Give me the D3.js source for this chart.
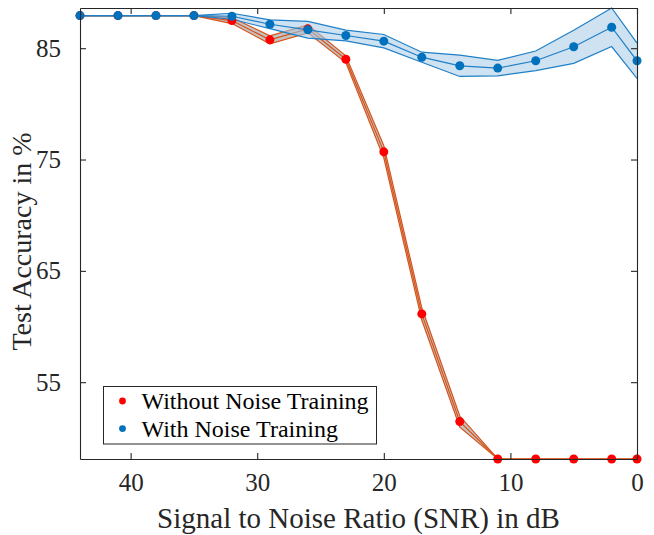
<!DOCTYPE html>
<html>
<head>
<meta charset="utf-8">
<script src="https://cdn.jsdelivr.net/npm/d3@7"></script>
<style>
  body { margin: 0; background: #fff; }
  svg { display: block; font-family: "Liberation Serif", "Times New Roman", serif; }
</style>
</head>
<body>
<div class="viz"></div>
<script>
// SNR levels (dB)
var snr = [44, 41, 38, 35, 32, 29, 26, 23, 20, 17, 14, 11, 8, 5, 2, 0];

// without noise training: mean accuracy and spread
var accPlain = [87.93, 87.93, 87.93, 87.93, 87.48, 85.75, 86.74, 84.01, 75.69, 61.13, 51.46, 48.1, 48.1, 48.1, 48.1, 48.1];
var stdPlain = [0, 0, 0, 0, 0.27, 0.36, 0.36, 0.3, 0.55, 0.55, 0.5, 0, 0, 0, 0, 0];

// with noise training
var accNoise = [87.93, 87.93, 87.93, 87.93, 87.87, 87.15, 86.65, 86.14, 85.63, 84.19, 83.42, 83.21, 83.87, 85.13, 86.88, 83.87];
var stdNoise = [0, 0, 0, 0, 0.27, 0.4, 0.75, 0.48, 0.6, 0.45, 0.96, 0.69, 0.88, 1.49, 1.73, 1.59];

var xTicks = [40, 30, 20, 10, 0];
var yTicks = [55, 65, 75, 85];
var legendLabels = ['Without Noise Training', 'With Noise Training'];

var width = 654, height = 535;
var margin = {top: 8, right: 17, bottom: 76, left: 80};
var innerW = width - margin.left - margin.right,
    innerH = height - margin.top - margin.bottom;

var series = [
  {name: legendLabels[0], acc: accPlain, sd: stdPlain, marker: '#ff0000', edge: '#d95319', fill: '#b4b4b4', fillOp: 0.8, line: '#d95319'},
  {name: legendLabels[1], acc: accNoise, sd: stdNoise, marker: '#0072bd', edge: '#1f7fc7', fill: '#a6cae8', fillOp: 0.55, line: '#1f7fc7'}
];

var allVals = [];
series.forEach(function(s){
  s.acc.forEach(function(v, i){ allVals.push(v - s.sd[i], v + s.sd[i]); });
});

var x = d3.scaleLinear().domain([44, 0]).range([0, innerW]);
var y = d3.scaleLinear().domain(d3.extent(allVals)).range([innerH, 0]);

var svg = d3.select('.viz').append('svg')
  .attr('width', width)
  .attr('height', height);

var g = svg.append('g')
  .attr('transform', 'translate(' + margin.left + ',' + margin.top + ')');

svg.append('clipPath').attr('id', 'plotclip')
  .append('rect').attr('width', innerW).attr('height', innerH + 2).attr('y', -1);

var plot = g.append('g').attr('clip-path', 'url(#plotclip)');

var lineMean = d3.line()
  .x(function(d, i){ return x(snr[i]); })
  .y(function(d){ return y(d); });

series.forEach(function(s){
  var upper = s.acc.map(function(v, i){ return v + s.sd[i]; });
  var lower = s.acc.map(function(v, i){ return v - s.sd[i]; });

  var area = d3.area()
    .x(function(d, i){ return x(snr[i]); })
    .y0(function(d, i){ return y(lower[i]); })
    .y1(function(d, i){ return y(upper[i]); });

  plot.append('path')
    .datum(s.acc)
    .attr('d', area)
    .attr('fill', s.fill)
    .attr('fill-opacity', s.fillOp);

  [upper, lower].forEach(function(edge){
    plot.append('path')
      .datum(edge)
      .attr('d', lineMean)
      .attr('fill', 'none')
      .attr('stroke', s.edge)
      .attr('stroke-width', 1.2);
  });

  plot.append('path')
    .datum(s.acc)
    .attr('d', lineMean)
    .attr('fill', 'none')
    .attr('stroke', s.line)
    .attr('stroke-width', 1.2);
});

series.forEach(function(s){
  g.selectAll(null)
    .data(s.acc)
    .enter()
    .append('circle')
    .attr('cx', function(d, i){ return x(snr[i]); })
    .attr('cy', function(d){ return y(d); })
    .attr('r', 4.5)
    .attr('fill', s.marker);
});

/* axes, MATLAB style box with inward ticks */
var axisColor = '#262626';

var xAxisB = g.append('g')
  .attr('transform', 'translate(0,' + innerH + ')')
  .call(d3.axisBottom(x).tickValues(xTicks).tickSizeInner(-6).tickSizeOuter(0).tickPadding(14));
var xAxisT = g.append('g')
  .call(d3.axisTop(x).tickValues(xTicks).tickSizeInner(-6).tickSizeOuter(0).tickFormat(''));
var yAxisL = g.append('g')
  .call(d3.axisLeft(y).tickValues(yTicks).tickSizeInner(-6).tickSizeOuter(0).tickPadding(19));
var yAxisR = g.append('g')
  .attr('transform', 'translate(' + innerW + ',0)')
  .call(d3.axisRight(y).tickValues(yTicks).tickSizeInner(-6).tickSizeOuter(0).tickFormat(''));

[xAxisB, xAxisT, yAxisL, yAxisR].forEach(function(a){
  a.select('.domain').attr('stroke', axisColor).attr('stroke-width', 1.1);
  a.selectAll('.tick line').attr('stroke', axisColor).attr('stroke-width', 1.1);
  a.selectAll('.tick text')
    .attr('fill', axisColor)
    .style('font-family', '"Liberation Serif", serif')
    .style('font-size', '25px');
});

svg.append('text')
  .attr('x', margin.left + innerW / 2)
  .attr('y', 528)
  .attr('text-anchor', 'middle')
  .attr('fill', axisColor)
  .style('font-size', '29px')
  .text('Signal to Noise Ratio (SNR) in dB');

svg.append('text')
  .attr('transform', 'translate(31,' + (margin.top + innerH / 2 + 8) + ') rotate(-90)')
  .attr('text-anchor', 'middle')
  .attr('fill', axisColor)
  .style('font-size', '28px')
  .text('Test Accuracy in %');

/* legend */
var legend = svg.append('g').attr('transform', 'translate(103.5,386.5)');
legend.append('rect')
  .attr('width', 273)
  .attr('height', 57.5)
  .attr('fill', '#fff')
  .attr('stroke', axisColor)
  .attr('stroke-width', 1);

var items = legend.selectAll('.item')
  .data(series)
  .enter()
  .append('g')
  .attr('class', 'item')
  .attr('transform', function(d, i){ return 'translate(0,' + (14.5 + i * 27.6) + ')'; });

items.append('circle')
  .attr('cx', 19)
  .attr('r', 3.4)
  .attr('fill', function(d){ return d.marker; });

items.append('text')
  .attr('x', 38)
  .attr('y', 8)
  .attr('fill', '#000')
  .style('font-size', '24px')
  .text(function(d){ return d.name; });
</script>
</body>
</html>
